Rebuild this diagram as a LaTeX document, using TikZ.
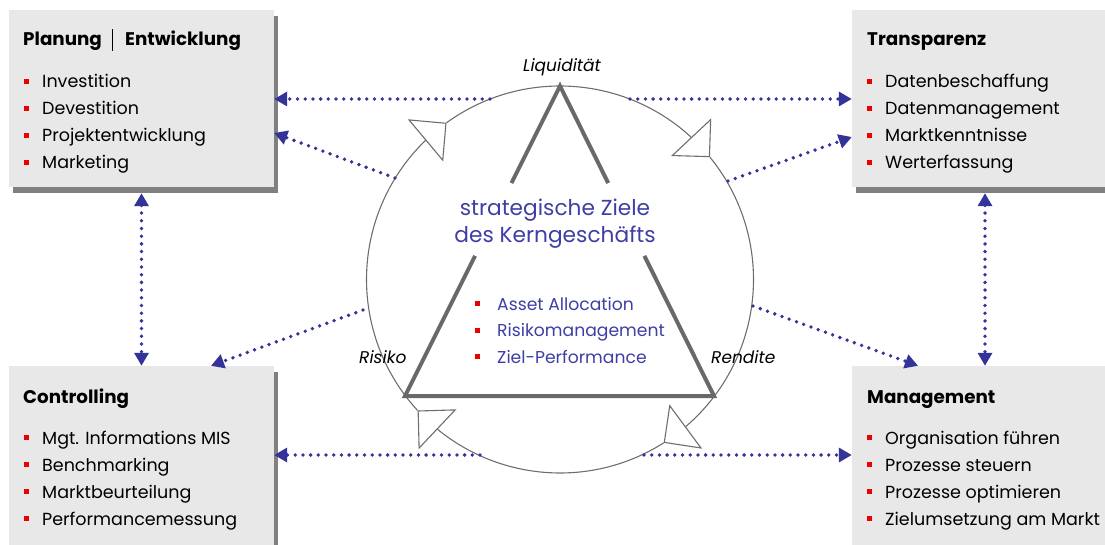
\documentclass[tikz,border=0pt]{standalone}
\usepackage{fontspec}
\setmainfont{Poppins}
\usepackage{tikz}
\usetikzlibrary{arrows.meta,bending,calc,shadows}

\definecolor{boxgray}{RGB}{232,232,232}
\definecolor{shadegray}{RGB}{128,128,128}
\definecolor{trigray}{RGB}{105,105,105}
\definecolor{ringgray}{RGB}{110,110,110}
\definecolor{dotblue}{RGB}{51,51,153}
\definecolor{zielblue}{RGB}{62,62,165}
\definecolor{bulred}{RGB}{235,0,0}

\newcommand{\sqbullet}{\textcolor{bulred}{\rule[4pt]{5pt}{5pt}}\hspace{13pt}}

\begin{document}
\begin{tikzpicture}[x=1pt, y=1pt,
    box/.style={fill=boxgray, inner sep=0pt,
      drop shadow={shadow xshift=4pt, shadow yshift=-6pt, fill=shadegray, opacity=1}},
    title/.style={anchor=base west, inner sep=0pt, font=\fontsize{18.3}{21}\selectfont\bfseries},
    item/.style={anchor=base west, inner sep=0pt, font=\fontsize{17.5}{20}\selectfont},
    ziel/.style={anchor=base, inner sep=0pt, text=zielblue, font=\fontsize{21.7}{25}\selectfont},
    zielitem/.style={anchor=base west, inner sep=0pt, text=zielblue, font=\fontsize{17.2}{20}\selectfont},
    corner/.style={inner sep=0pt, font=\fontsize{17}{20}\selectfont\itshape},
    trian/.style={draw=trigray, line width=4pt},
    ring/.style={draw=ringgray, line width=1.1pt,
      -{Triangle[fill=white, length=27.5pt, width=55pt, flex]}},
    link/.style={draw=dotblue, line width=3.8pt, line cap=round,
      dash pattern=on 0pt off 7.7pt, -{Triangle[length=13pt, width=14pt]}},
    link2/.style={link, {Triangle[length=13pt, width=14pt]}-{Triangle[length=13pt, width=14pt]}}]
  \useasboundingbox (0,0) rectangle (1105,-545);
  % boxes
  \node[box, minimum width=265pt, minimum height=177pt] (plan) at (141.5,-98.5) {};
  \node[box, minimum width=258pt, minimum height=177pt] (transp) at (981,-98.5) {};
  \node[box, minimum width=265pt, minimum height=186pt] (contr) at (141.5,-459) {};
  \node[box, minimum width=258pt, minimum height=186pt] (mgmt) at (981,-459) {};
  % box texts
  \node[title] (plantitle) at (23,-46) {Planung\hspace{10pt}\rule[-5pt]{1.3pt}{22pt}\hspace{12pt}Entwicklung};
  \foreach \t [count=\i] in {Investition, Devestition, Projektentwicklung, Marketing}
    \node[item] (plan\i) at (24,{-88-27*(\i-1)}) {\sqbullet\t};
  \node[title] (transptitle) at (867,-46) {Transparenz};
  \foreach \t [count=\i] in {Datenbeschaffung, Datenmanagement, Marktkenntnisse, Werterfassung}
    \node[item] (transp\i) at (867,{-88-27*(\i-1)}) {\sqbullet\t};
  \node[title] (contrtitle) at (23,-403) {Controlling};
  \foreach \t [count=\i] in {Mgt. Informations MIS, Benchmarking, Marktbeurteilung, Performancemessung}
    \node[item] (contr\i) at (24,{-444-27*(\i-1)}) {\sqbullet\t};
  \node[title] (mgmttitle) at (867,-403) {Management};
  \foreach \t [count=\i] in {Organisation führen, Prozesse steuern, Prozesse optimieren, Zielumsetzung am Markt}
    \node[item] (mgmt\i) at (867,{-444-27*(\i-1)}) {\sqbullet\t};
  % circle
  \coordinate (ctr) at (560,-279.5);
  \draw[ring] ($(ctr)+(222.6:193.5pt)$) arc[start angle=222.6, end angle=125.9, radius=193.5pt];
  \draw[ring] ($(ctr)+(125.9:193.5pt)$) arc[start angle=125.9, end angle=39.2, radius=193.5pt];
  \draw[ring] ($(ctr)+(39.2:193.5pt)$) arc[start angle=39.2, end angle=-57.6, radius=193.5pt];
  \draw[ring] ($(ctr)+(-57.6:193.5pt)$) arc[start angle=-57.6, end angle=-137.4, radius=193.5pt];
  % triangle
  \coordinate (apex) at (560,-86);
  \coordinate (bl) at (405,-396);
  \coordinate (br) at (714,-396);
  \draw[trian] ($(apex)!0.313!(bl)$) -- (apex) -- ($(apex)!0.313!(br)$);
  \draw[trian] ($(apex)!0.548!(bl)$) -- (bl) -- (br) -- ($(apex)!0.548!(br)$);
  % corner labels
  \node[corner, anchor=base] (liqui) at (562,-72) {Liquidität};
  \node[corner, anchor=base west] (risiko) at (359,-363) {Risiko};
  \node[corner, anchor=base west] (rendite) at (711,-363) {Rendite};
  % goals
  \node[ziel] (ziel1) at (555,-216) {strategische Ziele};
  \node[ziel] (ziel2) at (555,-243) {des Kerngeschäfts};
  \foreach \t [count=\i] in {Asset Allocation, Risikomanagement, Ziel-Performance}
    \node[zielitem] (zi\i) at (475,{-310-26.5*(\i-1)}) {\sqbullet\hspace{4pt}\t};
  % links
  \coordinate (c1) at (490,-99);
  \coordinate (c2) at (395,-178);
  \coordinate (c3) at (630,-99);
  \coordinate (c4) at (728,-181);
  \coordinate (c5) at (363,-310);
  \coordinate (c6) at (753,-306);
  \coordinate (c7) at (480,-455);
  \coordinate (c8) at (644,-455);
  \draw[link] (c1) -- (c1 -| plan.east);
  \draw[link] (c2) -- ([yshift=-34.5pt]plan.east);
  \draw[link] (c3) -- (c3 -| transp.west);
  \draw[link] (c4) -- ([yshift=-38.5pt]transp.west);
  \draw[link] (c5) -- ([xshift=69.5pt]contr.north);
  \draw[link] (c6) -- ([xshift=-63pt]mgmt.north);
  \draw[link] (c7) -- (c7 -| contr.east);
  \draw[link] (c8) -- (c8 -| mgmt.west);
  \draw[link2] ([yshift=-6pt]plan.south) -- (contr.north);
  \draw[link2] ([xshift=4pt,yshift=-6pt]transp.south) -- ([xshift=4pt]mgmt.north);
\end{tikzpicture}
\end{document}
